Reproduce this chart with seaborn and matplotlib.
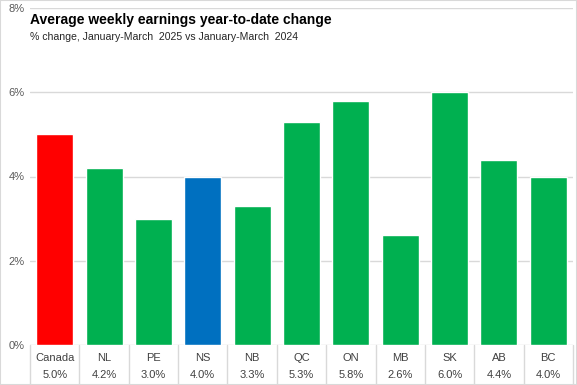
import matplotlib
matplotlib.use('Agg')
import matplotlib.pyplot as plt
import matplotlib.transforms as mtransforms
import seaborn as sns
import pandas as pd


# ==========================================
# DATOS
# ==========================================

regions = ['Canada', 'NL', 'PE', 'NS', 'NB', 'QC', 'ON', 'MB', 'SK', 'AB', 'BC']
changes = [5.0, 4.2, 3.0, 4.0, 3.3, 5.3, 5.8, 2.6, 6.0, 4.4, 4.0]
bar_colors = ['#FF0000', '#00B050', '#00B050', '#0070C0', '#00B050', '#00B050',
              '#00B050', '#00B050', '#00B050', '#00B050', '#00B050']
y_ticks = [0, 2, 4, 6, 8]

title = 'Average weekly earnings year-to-date change'
subtitle = '% change, January-March  2025 vs January-March  2024'

df = pd.DataFrame({'region': regions, 'change': changes})


# ==========================================
# GRAFICO
# ==========================================

sns.set_style('white')
plt.rcParams['font.family'] = ['Liberation Sans', 'DejaVu Sans']

fig = plt.figure(figsize=(5.77, 3.85), dpi=100)
ax = fig.add_axes([30 / 577, 40 / 385, 543 / 577, 337 / 385])

sns.barplot(
    data=df,
    x='region',
    y='change',
    hue='region',
    palette=dict(zip(regions, bar_colors)),
    width=0.75,
    legend=False,
    saturation=1,
    ax=ax
)

ax.set_ylim(0, 8)
ax.set_xlim(-0.5, len(regions) - 0.5)
ax.set_yticks(y_ticks)
ax.set_yticklabels([f'{t}%' for t in y_ticks], color='#595959', fontsize=8)
ax.tick_params(axis='y', length=0, pad=4)
ax.set_xticks([])
ax.set_xlabel('')
ax.set_ylabel('')
ax.yaxis.grid(True, color='#D9D9D9', linewidth=1)
ax.set_axisbelow(True)
for s in ax.spines.values():
    s.set_visible(False)

# tabla de datos bajo el eje
trans = mtransforms.blended_transform_factory(ax.transData, ax.transAxes)
for i, (r, v) in enumerate(zip(regions, changes)):
    ax.text(i, -0.038, r, transform=trans, ha='center', va='center',
            fontsize=8, color='#404040')
    ax.text(i, -0.088, f'{v:.1f}%', transform=trans, ha='center', va='center',
            fontsize=8, color='#404040')
for i in range(len(regions) + 1):
    ax.plot([i - 0.5, i - 0.5], [0, -0.12], transform=trans, color='#D9D9D9',
            linewidth=1, clip_on=False)

fig.text(30 / 577, 1 - 20 / 385, title, fontsize=10, fontweight='bold',
         va='center', ha='left', color='#000000')
fig.text(30 / 577, 1 - 37 / 385, subtitle, fontsize=7.6,
         va='center', ha='left', color='#262626')

# borde exterior
fig.patches.append(plt.Rectangle((0, 0), 1, 1, transform=fig.transFigure,
                                 fill=False, edgecolor='#D9D9D9', linewidth=1.5))

fig.savefig('out.png', dpi=100)
